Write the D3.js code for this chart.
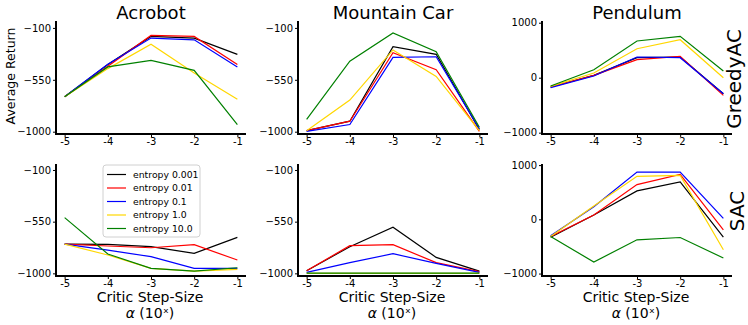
<!DOCTYPE html>
<html>
<head>
<meta charset="utf-8">
<script src="https://cdn.jsdelivr.net/npm/d3@7"></script>
<style>
  body { margin: 0; background: white; }
  svg { font-family: "DejaVu Sans", sans-serif; display: block; }
</style>
</head>
<body>
<svg id="chart"></svg>
<script>
var width = 748,
    height = 325;

// x values: critic step-size exponent
var stepSizes = [-5, -4, -3, -2, -1];
var stepLabels = ["-5", "-4", "-3", "-2", "-1"];
var entropies = ["entropy 0.001", "entropy 0.01", "entropy 0.1", "entropy 1.0", "entropy 10.0"];
var colors = ["black", "red", "blue", "gold", "green"];

var envNames = ["Acrobot", "Mountain Car", "Pendulum"];
var agentNames = ["GreedyAC", "SAC"];

var ticksNeg = [-1000, -550, -100],
    ticksPend = [-1000, 0, 1000];

// one row per entropy, one value per step size
var greedyAcrobot = [
  [-697, -418, -174, -188, -329],
  [-697, -432, -165, -174, -418],
  [-697, -415, -188, -203, -438],
  [-697, -453, -241, -491, -718],
  [-697, -438, -382, -468, -938]
];
var greedyMountainCar = [
  [-991, -909, -262, -329, -982],
  [-991, -909, -315, -462, -997],
  [-997, -938, -356, -350, -976],
  [-991, -726, -291, -521, -991],
  [-894, -388, -144, -306, -962]
];
var greedyPendulum = [
  [-170, 42, 364, 376, -291],
  [-170, 42, 327, 388, -321],
  [-182, 30, 376, 364, -291],
  [-158, 85, 527, 691, 0],
  [-152, 145, 667, 752, 121]
];
var sacAcrobot = [
  [-745, -747, -768, -826, -687],
  [-745, -762, -777, -750, -884],
  [-745, -797, -855, -957, -957],
  [-745, -840, -957, -980, -965],
  [-515, -832, -957, -980, -951]
];
var sacMountainCar = [
  [-977, -768, -599, -861, -980],
  [-977, -759, -750, -907, -985],
  [-991, -907, -829, -913, -991],
  [-1000, -1000, -1000, -1000, -1000],
  [-998, -998, -998, -998, -998]
];
var sacPendulum = [
  [-329, 79, 524, 689, -329],
  [-317, 79, 640, 829, -195],
  [-305, 232, 872, 872, 18],
  [-317, 244, 793, 811, -561],
  [-317, -787, -378, -335, -713]
];

var panels = [
  { row: 0, col: 0, data: greedyAcrobot, dom: [-1020, -40], ticks: ticksNeg },
  { row: 0, col: 1, data: greedyMountainCar, dom: [-1020, -40], ticks: ticksNeg },
  { row: 0, col: 2, data: greedyPendulum, dom: [-1024, 1031], ticks: ticksPend },
  { row: 1, col: 0, data: sacAcrobot, dom: [-1023, -48], ticks: ticksNeg },
  { row: 1, col: 1, data: sacMountainCar, dom: [-1023, -48], ticks: ticksNeg },
  { row: 1, col: 2, data: sacPendulum, dom: [-1045, 1020], ticks: ticksPend }
];

// layout
var colLeft = [56, 298, 542],
    panelW = 190;
var rowTop = [21, 164],
    rowBottom = [134, 276];

var svg = d3.select("#chart")
  .attr("width", width)
  .attr("height", height);

svg.append("rect")
  .attr("width", width)
  .attr("height", height)
  .attr("fill", "white");

panels.forEach(function (p) {
  var x = d3.scaleLinear()
    .domain([-5.2, -0.8])
    .range([colLeft[p.col], colLeft[p.col] + panelW]);
  var y = d3.scaleLinear()
    .domain(p.dom)
    .range([rowBottom[p.row], rowTop[p.row]]);

  var g = svg.append("g").attr("class", "panel");

  var line = d3.line()
    .x(function (d, i) { return x(stepSizes[i]); })
    .y(function (d) { return y(d); });

  g.selectAll("path.series")
      .data(p.data)
    .enter().append("path")
      .attr("class", "series")
      .attr("d", line)
      .attr("fill", "none")
      .attr("stroke", function (d, i) { return colors[i]; })
      .attr("stroke-width", 1.2);

  var yAxis = d3.axisLeft(y)
    .tickValues(p.ticks)
    .tickFormat(function (d) { return d < 0 ? "\u2212" + Math.abs(d) : d; })
    .tickSize(3)
    .tickSizeOuter(0)
    .tickPadding(2);
  var xAxis = d3.axisBottom(x)
    .tickValues(stepSizes)
    .tickFormat(function (d, i) { return stepLabels[i]; })
    .tickSize(3)
    .tickSizeOuter(0)
    .tickPadding(1);

  var ya = g.append("g")
    .attr("transform", "translate(" + colLeft[p.col] + ",0)")
    .call(yAxis);
  var xa = g.append("g")
    .attr("transform", "translate(0," + rowBottom[p.row] + ")")
    .call(xAxis);

  [ya, xa].forEach(function (a) {
    a.selectAll("text")
      .attr("font-family", "DejaVu Sans")
      .attr("font-size", 10)
      .attr("fill", "black");
    a.selectAll("line").attr("stroke", "black").attr("stroke-width", 1);
    a.select(".domain").attr("stroke", "black").attr("stroke-width", 2);
  });
  // make the two spines meet at the corner
  ya.select(".domain").attr("d", "M0," + (rowBottom[p.row] + 1) + "V" + rowTop[p.row]);
  xa.select(".domain").attr("d", "M" + (colLeft[p.col] - 1) + ",0H" + (colLeft[p.col] + panelW));

  if (p.row === 0) {
    svg.append("text")
      .attr("x", colLeft[p.col] + panelW / 2)
      .attr("y", 19)
      .attr("text-anchor", "middle")
      .attr("font-size", 18)
      .text(envNames[p.col]);
  } else {
    var cx = colLeft[p.col] + panelW / 2 - 1;
    svg.append("text")
      .attr("x", cx)
      .attr("y", 302)
      .attr("text-anchor", "middle")
      .attr("font-size", 14)
      .text("Critic Step-Size");
    var t = svg.append("text")
      .attr("x", cx)
      .attr("y", 317.5)
      .attr("text-anchor", "middle")
      .attr("font-size", 14);
    t.append("tspan").attr("font-style", "italic").text("\u03b1");
    t.append("tspan").text(" (10\u02e3)");
  }
});

// y label
svg.append("text")
  .attr("transform", "translate(15,76) rotate(-90)")
  .attr("text-anchor", "middle")
  .attr("font-size", 12.5)
  .text("Average Return");

// row labels on the right
svg.append("text")
  .attr("transform", "translate(741,79) rotate(-90)")
  .attr("text-anchor", "middle")
  .attr("font-size", 20)
  .text(agentNames[0]);
svg.append("text")
  .attr("transform", "translate(744,211) rotate(-90)")
  .attr("text-anchor", "middle")
  .attr("font-size", 20)
  .text(agentNames[1]);

// legend in the SAC / Acrobot panel
var legend = svg.append("g")
  .attr("transform", "translate(103,165)");

legend.append("rect")
  .attr("width", 97)
  .attr("height", 72)
  .attr("rx", 3)
  .attr("fill", "white")
  .attr("fill-opacity", 0.8)
  .attr("stroke", "#d0d0d0")
  .attr("stroke-width", 1);

var items = legend.selectAll("g.item")
    .data(entropies)
  .enter().append("g")
    .attr("class", "item")
    .attr("transform", function (d, i) { return "translate(0," + (9.5 + i * 13.5) + ")"; });

items.append("line")
  .attr("x1", 4)
  .attr("x2", 23)
  .attr("stroke", function (d, i) { return colors[i]; })
  .attr("stroke-width", 1.2);

items.append("text")
  .attr("x", 30)
  .attr("dy", "0.35em")
  .attr("font-size", 9.3)
  .text(function (d) { return d; });
</script>
</body>
</html>
